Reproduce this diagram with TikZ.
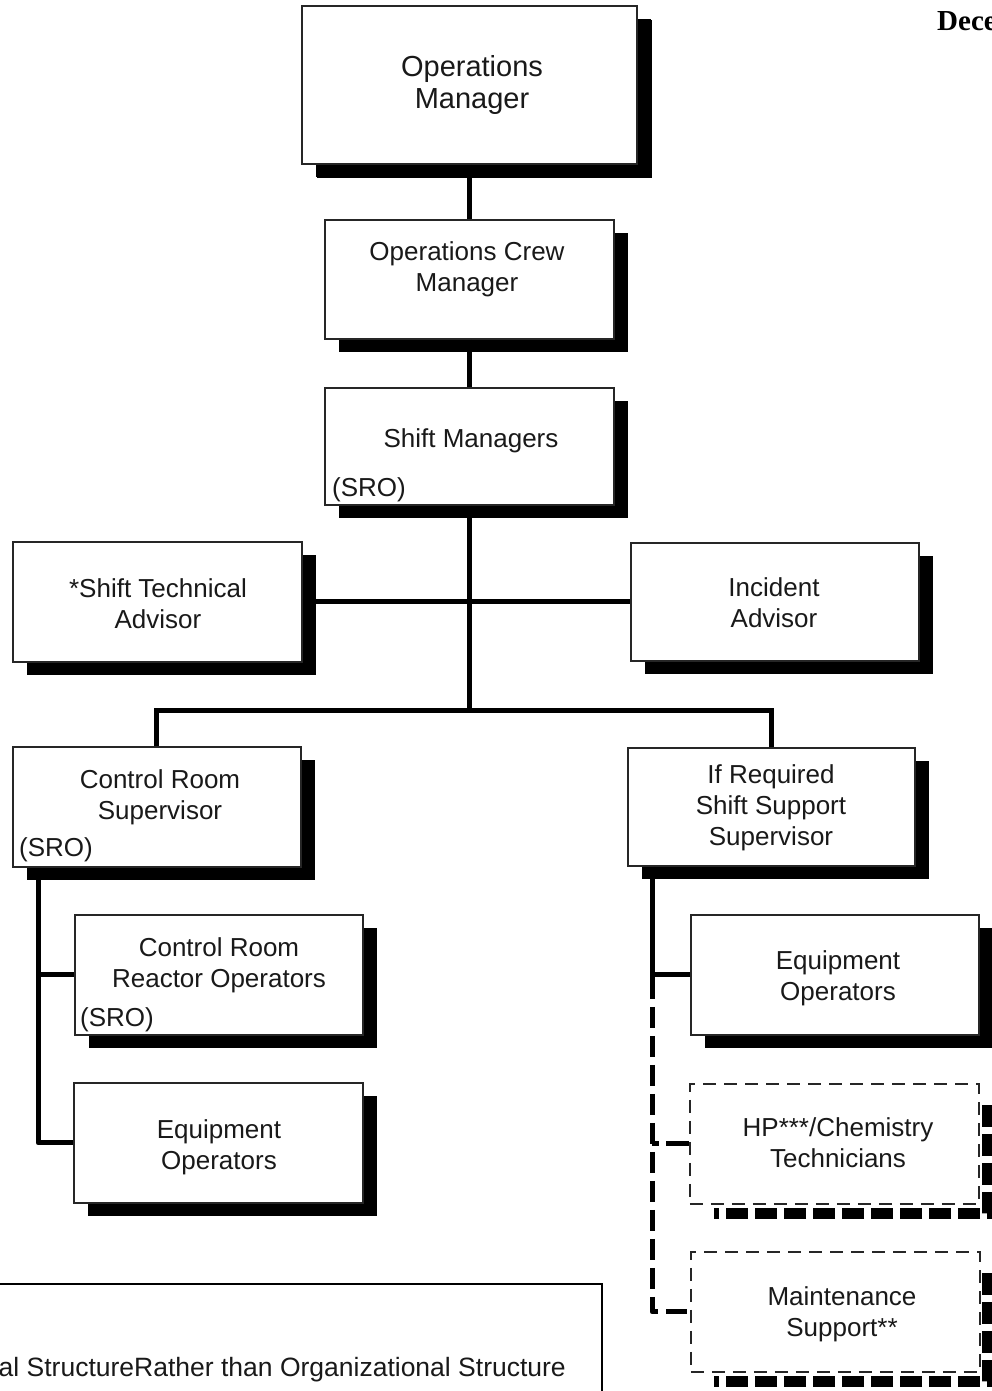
\documentclass[tikz,border=0pt]{standalone}
\usepackage{fontspec}
\setmainfont{Liberation Sans}
\newfontfamily\datefont{Liberation Serif}
\usetikzlibrary{shadows}
\begin{document}
\begin{tikzpicture}[x=1pt,y=-1pt,
  box/.style={draw=black!85, line width=1.6pt, fill=white, inner sep=0pt, anchor=north west,
    general shadow={fill=black, shadow xshift=14pt, shadow yshift=-13pt}},
  std/.style={box, minimum width=289pt, minimum height=119pt},
  dbox/.style={draw=black!85, line width=1.6pt, fill=white, inner sep=0pt, anchor=north west,
    dash pattern=on 13pt off 8pt, minimum width=289pt, minimum height=120pt},
  dshadow/.style={line width=11pt, dash pattern=on 22pt off 7pt},
  txt/.style={align=center, font=\fontsize{26}{31}\selectfont, text=black!90, inner sep=0pt},
  sro/.style={anchor=west, font=\fontsize{26}{31}\selectfont, text=black!90, inner sep=0pt},
  link/.style={line width=5pt},
  dlink/.style={line width=5pt, dash pattern=on 21pt off 8pt},
]
\useasboundingbox (0,0) rectangle (992,1391);

% dashed boxes with their heavy dashed shadows
\draw[dshadow] (987.5,1105) -- (987.5,1213.5) -- (714,1213.5);
\draw[dshadow] (987.5,1273) -- (987.5,1381.5) -- (714,1381.5);
\node[dbox] (hp) at (689,1083) {};
\node[dbox] (ms) at (690,1251) {};

% solid boxes
\node[box, minimum width=335pt, minimum height=158pt,
  general shadow={fill=black, shadow xshift=15pt, shadow yshift=-14pt}] (om) at (301,5) {};
\node[std] (ocm) at (324,219) {};
\node[std, minimum height=117pt] (sm) at (324,387) {};
\node[std, minimum height=120pt] (sta) at (12,541) {};
\node[std, minimum width=288pt, minimum height=118pt] (ia) at (630,542) {};
\node[std, minimum width=288pt, minimum height=120pt] (crs) at (12,746) {};
\node[std, minimum width=287pt, minimum height=118pt] (sss) at (627,747) {};
\node[std, minimum width=288pt, minimum height=120pt] (cro) at (74,914) {};
\node[std, minimum height=120pt] (eoL) at (73,1082) {};
\node[std, minimum width=288pt, minimum height=120pt] (eoR) at (690,914) {};

% box texts
\node[txt, font=\fontsize{29}{32}\selectfont] (omT) at (472,85) {Operations\\Manager};
\node[txt] (ocmT) at (467,269.5) {Operations Crew\\Manager};
\node[txt] (smT) at (471,441) {Shift Managers};
\node[sro] (smS) at (332,490) {(SRO)};
\node[txt] (staT) at (158,603.5) {*Shift Technical\\Advisor};
\node[txt] (iaT) at (774,602.5) {Incident\\Advisor};
\node[txt] (crsT) at (160,797) {Control Room\\Supervisor};
\node[sro] (crsS) at (19,850) {(SRO)};
\node[txt] (sssT) at (771,808) {If Required\\Shift Support\\Supervisor};
\node[txt] (croT) at (219,965) {Control Room\\Reactor Operators};
\node[sro] (croS) at (80,1020) {(SRO)};
\node[txt] (eoLT) at (219,1147) {Equipment\\Operators};
\node[txt] (eoRT) at (838,978.5) {Equipment\\Operators};
\node[txt] (hpT) at (838,1143) {HP***/Chemistry\\Technicians};
\node[txt] (msT) at (842,1314.5) {Maintenance\\Support**};

% connectors
\coordinate (bar) at (470,710);
\coordinate (lx) at (38,0);
\coordinate (rx) at (652,0);
\draw[link] (om.south) -- (ocm.north);
\draw[link] (ocm.south) -- (sm.north);
\draw[link] (sm.south) -- (sm.south |- bar);
\draw[link] (sta.east) -- (ia.west);
\draw[link] (crs.north) -- (crs.north |- bar) -- (sss.north |- bar) -- (sss.north);
\draw[link, line join=round] (lx |- crs.south) -- (lx |- eoL.west) -- (eoL.west);
\draw[link] (lx |- cro.west) -- (cro.west);
\draw[link] (rx |- sss.south) -- ([yshift=-3pt]rx |- eoR.west);
\draw[link] (rx |- eoR.west) -- (eoR.west);
\draw[dlink, line join=round] ([yshift=-3pt]rx |- eoR.west) -- (rx |- ms.west) -- (ms.west);
\draw[line width=5pt, dash pattern=on 7pt off 7pt on 30pt] (rx |- hp.west) -- (hp.west);

% legend frame and its note
\node[draw=black, line width=2pt, anchor=north east, minimum width=630pt, minimum height=140pt,
  inner sep=0pt] (legend) at (603,1283) {};
\node[anchor=base east, font=\fontsize{26.5}{31}\selectfont, text=black!90, inner sep=0pt]
  (legendT) at (566,1376) {al StructureRather than Organizational Structure};

% heading
\node[anchor=base west, font=\datefont\bfseries\fontsize{29}{32}\selectfont, inner sep=0pt]
  (date) at (937,31) {Dece};
\end{tikzpicture}
\end{document}
